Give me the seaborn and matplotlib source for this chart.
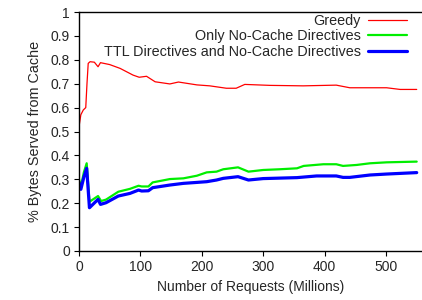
import matplotlib
matplotlib.use("Agg")
import matplotlib.pyplot as plt
import seaborn as sns
import pandas as pd

sns.set_theme(style="ticks")
plt.rcParams['font.family'] = ['Liberation Sans', 'DejaVu Sans']

greedy_x = [0, 3, 7, 11, 13, 15, 18, 25, 31, 35, 50, 67, 88, 98, 110, 124, 148, 162, 192, 213, 240, 256, 270, 311, 365, 419, 441, 501, 523, 550]
greedy_y = [0.52, 0.57, 0.59, 0.60, 0.70, 0.785, 0.792, 0.79, 0.771, 0.788, 0.78, 0.764, 0.736, 0.727, 0.731, 0.708, 0.699, 0.707, 0.695, 0.691, 0.681, 0.681, 0.697, 0.693, 0.691, 0.694, 0.683, 0.683, 0.676, 0.676]

nocache_x = [0, 3, 8, 12.5, 17, 31, 36, 44, 64, 83, 97, 102, 113, 120, 148, 170, 192, 208, 224, 235, 259, 276, 300, 327, 355, 366, 398, 419, 430, 452, 474, 501, 550]
nocache_y = [0.30, 0.269, 0.33, 0.367, 0.206, 0.23, 0.209, 0.215, 0.248, 0.26, 0.273, 0.27, 0.27, 0.287, 0.301, 0.304, 0.315, 0.329, 0.332, 0.342, 0.35, 0.332, 0.339, 0.342, 0.346, 0.356, 0.363, 0.363, 0.356, 0.36, 0.367, 0.371, 0.374]

ttl_x = [0, 3, 8, 12.5, 17, 31, 35, 44, 64, 83, 97, 102, 113, 120, 148, 170, 192, 208, 224, 235, 259, 276, 300, 355, 387, 419, 430, 441, 474, 501, 550]
ttl_y = [0.285, 0.258, 0.31, 0.346, 0.181, 0.216, 0.195, 0.202, 0.23, 0.241, 0.255, 0.251, 0.252, 0.265, 0.276, 0.283, 0.287, 0.29, 0.297, 0.304, 0.311, 0.297, 0.303, 0.307, 0.314, 0.314, 0.308, 0.308, 0.318, 0.322, 0.328]

labels = ["Greedy", "Only No-Cache Directives", "TTL Directives and No-Cache Directives"]
colors = ["#ff0000", "#00ee00", "#0000ff"]
widths = [0.9, 1.6, 2.3]

W, H = 422, 300
fig = plt.figure(figsize=(W / 100, H / 100), dpi=100)
ax = fig.add_axes([79 / W, (H - 251) / H, (W - 79) / W, (251 - 12) / H])

series = [(greedy_x, greedy_y), (nocache_x, nocache_y), (ttl_x, ttl_y)]
handles = []
for (xs, ys), lab, c, lw in zip(series, labels, colors, widths):
    df = pd.DataFrame({"x": xs, "y": ys})
    sns.lineplot(data=df, x="x", y="y", ax=ax, color=c, linewidth=lw, estimator=None, sort=False)
    handles.append(ax.lines[-1])

xmax = (W - 79) / 0.614
ax.set_xlim(0, xmax)
ax.set_ylim(0, 1)
ax.set_xticks([0, 100, 200, 300, 400, 500])
ax.set_yticks([i / 10 for i in range(11)])
ax.set_yticklabels(["0", "0.1", "0.2", "0.3", "0.4", "0.5", "0.6", "0.7", "0.8", "0.9", "1"])
ax.set_xlabel("Number of Requests (Millions)", fontsize=10, labelpad=4)
ax.set_ylabel("% Bytes Served from Cache", fontsize=10.4, labelpad=6)
ax.tick_params(axis="both", direction="out", length=3.5, width=0.8, labelsize=10, pad=3, color="black")
for s in ["left", "bottom", "top"]:
    ax.spines[s].set_color("black")
    ax.spines[s].set_linewidth(1.0)
ax.spines["right"].set_visible(False)

leg = ax.legend(handles, labels, loc="upper right", bbox_to_anchor=(407 / W, 1 - 14 / H),
                bbox_transform=fig.transFigure, frameon=False, markerfirst=False,
                fontsize=10.4, handlelength=2.7, handletextpad=0.5, labelspacing=0.1,
                borderaxespad=0, borderpad=0)
for t in leg.get_texts():
    t.set_ha("right")
leg._legend_box.align = "right"

fig.savefig("out.png", dpi=100)
